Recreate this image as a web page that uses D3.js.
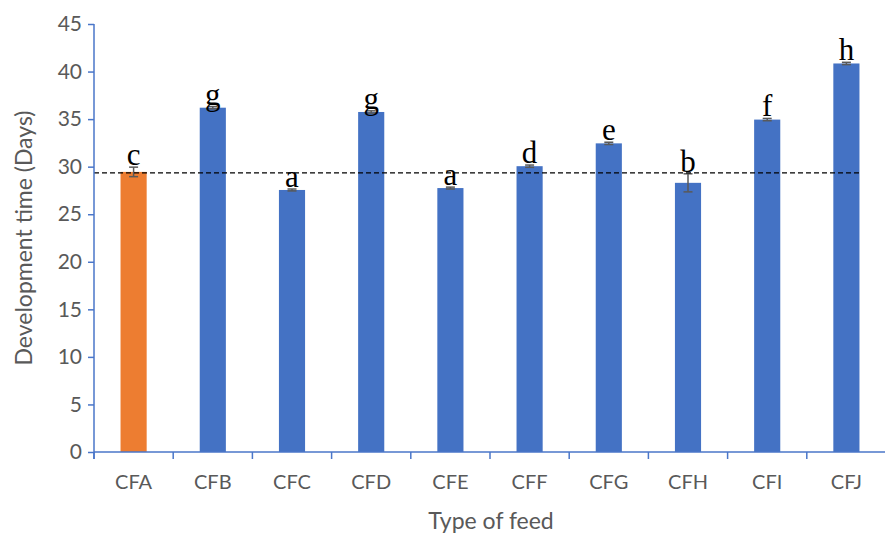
<!DOCTYPE html>
<html><head><meta charset="utf-8">
<script src="https://cdn.jsdelivr.net/npm/d3@7"></script>
<style>body{margin:0;background:#fff}</style>
</head><body>
<svg id="c" width="885" height="534"></svg>
<script>
const categories = ["CFA","CFB","CFC","CFD","CFE","CFF","CFG","CFH","CFI","CFJ"];
const values = [29.45, 36.2, 27.55, 35.75, 27.75, 30.05, 32.45, 28.3, 34.95, 40.85];
const errors = [0.5, 0.12, 0.1, 0.12, 0.1, 0.12, 0.12, 0.95, 0.12, 0.12];
const letters = ["c","g","a","g","a","d","e","b","f","h"];
const refValue = 29.35;
const yTicks = [0,5,10,15,20,25,30,35,40,45];

const svg = d3.select("#c");
const L = 94, R = 886, T = 24, B = 452;
const x = d3.scaleBand().domain(categories).range([L, R]).paddingInner(0.67).paddingOuter(0.335);
const y = d3.scaleLinear().domain([0,45]).range([B, T]);
const axisColor = "#4a76c9", textColor = "#595959";
const sans = "Lato, Open Sans, Liberation Sans, sans-serif";

// bars
svg.selectAll("rect.bar").data(categories).enter().append("rect")
  .attr("x", d => x(d)).attr("width", x.bandwidth())
  .attr("y", (d,i) => y(values[i])).attr("height", (d,i) => B - y(values[i]))
  .attr("fill", (d,i) => i === 0 ? "#ED7D31" : "#4472C4");

// error bars
const eg = svg.append("g").attr("stroke", "#595959").attr("stroke-width", 1.5);
categories.forEach((c,i) => {
  const cx = x(c) + x.bandwidth()/2;
  const hi = y(values[i] + errors[i]), lo = y(values[i] - errors[i]);
  eg.append("line").attr("x1", cx).attr("x2", cx).attr("y1", hi).attr("y2", lo);
  eg.append("line").attr("x1", cx-4.5).attr("x2", cx+4.5).attr("y1", hi).attr("y2", hi);
  eg.append("line").attr("x1", cx-4.5).attr("x2", cx+4.5).attr("y1", lo).attr("y2", lo);
});

// dashed reference line
svg.append("line").attr("x1", L).attr("x2", x("CFJ") + x.bandwidth())
  .attr("y1", y(refValue)).attr("y2", y(refValue))
  .attr("stroke", "#000").attr("stroke-width", 1.3).attr("stroke-dasharray", "5,3");

// letters
svg.selectAll("text.let").data(categories).enter().append("text")
  .attr("x", d => x(d) + x.bandwidth()/2)
  .attr("y", (d,i) => y(values[i] + errors[i]) - 2)
  .attr("text-anchor", "middle")
  .attr("font-family", "Liberation Serif, Times New Roman, serif")
  .attr("font-size", 31).attr("fill", "#000")
  .text((d,i) => letters[i]);

// y axis
const ya = svg.append("g").attr("transform", `translate(${L},0)`)
  .call(d3.axisLeft(y).tickValues(yTicks).tickSize(6).tickPadding(6));
ya.select(".domain").attr("stroke", axisColor).attr("stroke-width", 1.5).attr("d", `M0,${T}V${B+7}`);
ya.selectAll(".tick line").attr("stroke", axisColor).attr("stroke-width", 1.5);
ya.selectAll(".tick text").attr("fill", textColor).attr("font-size", 21)
  .attr("font-family", sans);

// x axis
const xa = svg.append("g").attr("transform", `translate(0,${B})`)
  .call(d3.axisBottom(x).tickSize(0).tickPadding(23));
xa.select(".domain").attr("stroke", axisColor).attr("stroke-width", 1.5).attr("d", `M${L},0H${R}`);
xa.selectAll(".tick text").attr("fill", textColor).attr("font-size", 20)
  .attr("font-family", sans);
// category boundary ticks
const bounds = d3.range(categories.length + 1).map(i => L + i * (R - L) / categories.length);
svg.append("g").selectAll("line").data(bounds).enter().append("line")
  .attr("x1", d => d).attr("x2", d => d).attr("y1", B).attr("y2", B + 7)
  .attr("stroke", axisColor).attr("stroke-width", 1.5);

// axis titles
svg.append("text").attr("x", (L + R)/2 + 1).attr("y", 529).attr("text-anchor", "middle")
  .attr("fill", textColor).attr("font-size", 23)
  .attr("font-family", sans).text("Type of feed");
svg.append("text").attr("transform", `translate(32,${(T+B)/2}) rotate(-90)`)
  .attr("text-anchor", "middle").attr("fill", textColor).attr("font-size", 23)
  .attr("font-family", sans).text("Development time (Days)");
</script>
</body></html>
